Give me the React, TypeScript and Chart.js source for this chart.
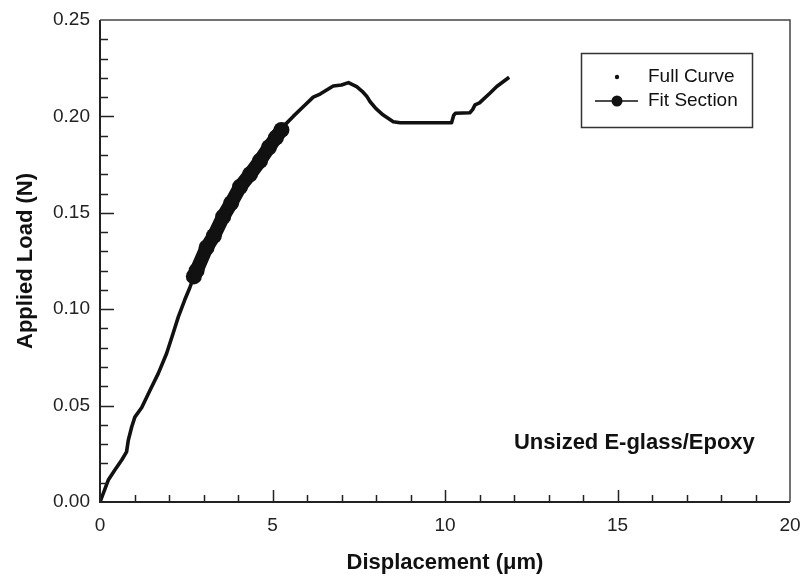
import React, { useEffect, useRef } from "react";
import { Chart, registerables } from "chart.js";
Chart.register(...registerables);

// ---- data ----
const fullX = [0, 0.24, 0.43, 0.63, 0.77, 0.82, 0.92, 1.01, 1.21, 1.45, 1.69, 1.93, 2.12, 2.27, 2.46, 2.6, 2.72, 2.8, 3.09, 3.3, 3.57, 3.8, 4.06, 4.35, 4.64, 4.9, 5.1, 5.26, 5.31, 5.6, 5.89, 6.18, 6.38, 6.76, 7.0, 7.2, 7.44, 7.6, 7.73, 7.83, 8.0, 8.21, 8.5, 8.7, 9.2, 9.7, 10.19, 10.25, 10.3, 10.72, 10.8, 10.87, 11.0, 11.3, 11.5, 11.86];
const fullY = [0, 0.0114, 0.0166, 0.0218, 0.026, 0.032, 0.039, 0.044, 0.049, 0.058, 0.0667, 0.077, 0.0875, 0.096, 0.105, 0.111, 0.117, 0.120, 0.132, 0.138, 0.148, 0.155, 0.1635, 0.170, 0.177, 0.184, 0.189, 0.193, 0.1947, 0.200, 0.205, 0.210, 0.2116, 0.2158, 0.2163, 0.2175, 0.2154, 0.213, 0.2105, 0.2076, 0.204, 0.2007, 0.1972, 0.1967, 0.1967, 0.1967, 0.1967, 0.2005, 0.2016, 0.2019, 0.2035, 0.206, 0.207, 0.212, 0.2155, 0.2203];
const fitX = [2.72, 2.8, 3.09, 3.3, 3.57, 3.8, 4.06, 4.35, 4.64, 4.9, 5.1, 5.26];
const fitY = [0.117, 0.120, 0.132, 0.138, 0.148, 0.155, 0.1635, 0.170, 0.177, 0.184, 0.189, 0.193];
const seriesLabels = ["Full Curve", "Fit Section"];
const xTickValues = [0, 5, 10, 15, 20];
const yTickValues = [0, 0.05, 0.1, 0.15, 0.2, 0.25];
const xTitle = "Displacement (\u03bcm)";
const yTitle = "Applied Load (N)";
const annotationText = "Unsized E-glass/Epoxy";
const annotationAt = [18.98, 0.0305];

const FONT = "'Liberation Sans', Arial, Helvetica, sans-serif";
const INK = "#111";

const ticksAndFrame = {
  id: "ticksAndFrame",
  afterDraw(chart: any) {
    const { ctx, chartArea: a, scales } = chart;
    const xs = scales.x, ys = scales.y;
    ctx.save();
    ctx.strokeStyle = "#222";
    ctx.lineWidth = 2;
    ctx.beginPath();
    ctx.moveTo(a.left, a.top);
    ctx.lineTo(a.left, a.bottom);
    ctx.lineTo(a.right, a.bottom);
    ctx.stroke();
    ctx.lineWidth = 1.5;
    ctx.strokeStyle = "#444";
    ctx.beginPath();
    ctx.moveTo(a.left, a.top);
    ctx.lineTo(a.right, a.top);
    ctx.lineTo(a.right, a.bottom);
    ctx.stroke();
    ctx.strokeStyle = "#222";
    ctx.lineWidth = 1.5;
    ctx.beginPath();
    for (let i = 1; i < 20; i++) {
      const px = Math.round(xs.getPixelForValue(i)) + 0.5;
      const len = i % 5 === 0 ? 12 : 7;
      ctx.moveTo(px, a.bottom);
      ctx.lineTo(px, a.bottom - len);
    }
    for (let i = 1; i < 25; i++) {
      const py = Math.round(ys.getPixelForValue(i / 100)) + 0.5;
      const len = i % 5 === 0 ? 14 : 8;
      ctx.moveTo(a.left, py);
      ctx.lineTo(a.left + len, py);
    }
    ctx.stroke();
    ctx.restore();
  },
};

const legendAndNote = {
  id: "legendAndNote",
  afterDraw(chart: any) {
    const { ctx, chartArea: a, scales } = chart;
    ctx.save();
    ctx.fillStyle = INK;
    ctx.font = `bold 22px ${FONT}`;
    ctx.textAlign = "right";
    ctx.textBaseline = "middle";
    ctx.fillText(annotationText, scales.x.getPixelForValue(annotationAt[0]), scales.y.getPixelForValue(annotationAt[1]));
    const bw = 171, bh = 74;
    const bx = a.right - 38 - bw, by = a.top + 33;
    ctx.fillStyle = "#fff";
    ctx.fillRect(bx, by, bw, bh);
    ctx.strokeStyle = "#333";
    ctx.lineWidth = 1.5;
    ctx.strokeRect(bx + 0.5, by + 0.5, bw, bh);
    const r1 = by + 24, r2 = by + 48;
    const cx = bx + 36;
    ctx.fillStyle = INK;
    ctx.beginPath();
    ctx.arc(cx, r1, 2.2, 0, Math.PI * 2);
    ctx.fill();
    ctx.strokeStyle = INK;
    ctx.lineWidth = 1.5;
    ctx.beginPath();
    ctx.moveTo(bx + 14, r2);
    ctx.lineTo(bx + 57, r2);
    ctx.stroke();
    ctx.beginPath();
    ctx.arc(cx, r2, 5.5, 0, Math.PI * 2);
    ctx.fill();
    ctx.font = `19px ${FONT}`;
    ctx.textAlign = "left";
    ctx.fillText(seriesLabels[0], bx + 67, r1);
    ctx.fillText(seriesLabels[1], bx + 67, r2);
    ctx.restore();
  },
};

export default function App() {
  const ref = useRef<HTMLCanvasElement>(null);
  useEffect(() => {
    if (!ref.current) return;
    const full = fullX.map((x, i) => ({ x, y: fullY[i] }));
    const fit = fitX.map((x, i) => ({ x, y: fitY[i] }));
    const chart = new Chart(ref.current, {
      type: "scatter",
      data: {
        datasets: [
          {
            label: seriesLabels[0],
            data: full,
            showLine: true,
            borderColor: INK,
            backgroundColor: INK,
            borderWidth: 3.6,
            borderJoinStyle: "round",
            pointRadius: 0,
            order: 1,
          },
          {
            label: seriesLabels[1],
            data: fit,
            showLine: true,
            borderColor: INK,
            backgroundColor: INK,
            borderWidth: 14,
            borderCapStyle: "round",
            borderJoinStyle: "round",
            pointRadius: 8,
            pointBackgroundColor: INK,
            pointBorderWidth: 0,
            order: 0,
          },
        ],
      },
      options: {
        responsive: false,
        animation: false,
        layout: { padding: { top: 20, right: 13, left: 0, bottom: 0 } },
        plugins: { legend: { display: false }, tooltip: { enabled: false } },
        scales: {
          x: {
            type: "linear",
            min: 0,
            max: 20,
            afterBuildTicks: (s: any) => { s.ticks = xTickValues.map((v) => ({ value: v })); },
            afterFit: (s: any) => { s.height = 75; s.paddingRight = 0; s.paddingLeft = 0; },
            grid: { display: false, drawTicks: false },
            border: { display: false },
            ticks: { color: "#222", padding: 12, font: { family: FONT, size: 19 }, callback: (v: any) => String(v), maxRotation: 0 },
            title: { display: true, text: xTitle, color: INK, padding: { top: 0, bottom: 1 }, font: { family: FONT, size: 22, weight: "bold" } },
          },
          y: {
            type: "linear",
            min: 0,
            max: 0.25,
            afterBuildTicks: (s: any) => { s.ticks = yTickValues.map((v) => ({ value: v })); },
            afterFit: (s: any) => { s.width = 100; s.paddingTop = 0; s.paddingBottom = 0; },
            grid: { display: false, drawTicks: false },
            border: { display: false },
            ticks: { color: "#222", padding: 10, font: { family: FONT, size: 19 }, callback: (v: any) => Number(v).toFixed(2) },
            title: { display: true, text: yTitle, color: INK, padding: { top: 13, bottom: 0 }, font: { family: FONT, size: 22, weight: "bold" } },
          },
        },
      },
      plugins: [ticksAndFrame, legendAndNote],
    } as any);
    return () => chart.destroy();
  }, []);
  return (
    <div style={{ position: "absolute", left: 0, top: 0, width: 803, height: 577, background: "#fff" }}>
      <canvas ref={ref} width={803} height={577} style={{ width: 803, height: 577, display: "block" }} />
    </div>
  );
}
